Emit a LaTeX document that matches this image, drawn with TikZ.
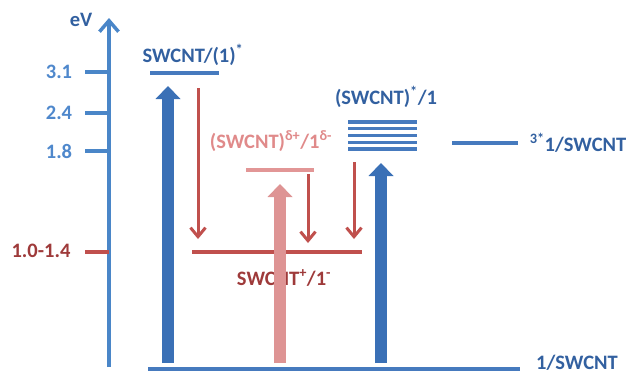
\documentclass[tikz,border=0pt]{standalone}
\usepackage{fontspec}
\setmainfont{Carlito}
\usetikzlibrary{arrows.meta}
\definecolor{axblue}{RGB}{74,134,200}
\definecolor{lvblue}{RGB}{70,122,190}
\definecolor{txblue}{RGB}{50,96,160}
\definecolor{numblue}{RGB}{79,136,204}
\definecolor{fatblue}{RGB}{58,112,182}
\definecolor{arred}{RGB}{192,80,77}
\definecolor{dkred}{RGB}{158,58,58}
\definecolor{pinkarr}{RGB}{222,148,148}
\definecolor{pinklv}{RGB}{226,150,150}
\definecolor{pinktx}{RGB}{224,138,138}
\begin{document}
\begin{tikzpicture}[x=1pt,y=-1pt,
  lab/.style={font=\fontsize{20.5}{22}\selectfont\bfseries, inner sep=0pt},
  level/.style={line width=4pt},
  fat/.style={line width=11.5pt,-{Triangle[length=13pt,width=25pt,line width=0pt]}},
  relaxarrow/.style={arred,line width=3pt,-{Straight Barb[length=9pt,width=15pt]}},
  ticks/.style={line width=4pt}]
\useasboundingbox (0,0) rectangle (633,375);
% axis
\coordinate (axb) at (109,367);
\coordinate (axt) at (109,18);
\draw[axblue,line width=3.5pt,-{Straight Barb[length=11pt,width=19pt]}] (axb) -- (axt);
\node[lab,txblue] (eV) at (81,20) {eV};
% ticks
\foreach \n/\y/\t in {a/72/3.1,b/113/2.4,c/151/1.8}{
  \coordinate (t\n1) at (85,\y); \coordinate (t\n2) at (109,\y);
  \draw[ticks,axblue] (t\n1) -- (t\n2);
  \node[lab,numblue] (l\n) at (59,\y) {\t};
}
\coordinate (td1) at (85,252); \coordinate (td2) at (109,252);
\draw[ticks,arred] (td1) -- (td2);
\node[lab,dkred] (ld) at (41,251) {1.0-1.4};
% levels
\coordinate (g1) at (148,369); \coordinate (g2) at (520,369);
\draw[level,lvblue] (g1) -- (g2);
\node[lab,txblue,anchor=base] (gl) at (577,369) {1/SWCNT};
\coordinate (s1) at (150,73); \coordinate (s2) at (219,73);
\draw[level,lvblue] (s1) -- (s2);
\node[lab,txblue] (sl) at (193,55) {SWCNT/(1)\textsuperscript{*}};
\coordinate (p1) at (246,170); \coordinate (p2) at (314,170);
\draw[level,pinklv] (p1) -- (p2);
\node[lab,pinktx] (pl) at (271,141) {(SWCNT)\textsuperscript{δ+}/1\textsuperscript{δ-}};
\coordinate (r1) at (192,252); \coordinate (r2) at (362,252);
\draw[level,arred] (r1) -- (r2);
\node[lab,dkred] (rl) at (284,278) {SWCNT\textsuperscript{+}/1\textsuperscript{-}};
\foreach \y [count=\i] in {122,128.75,135.5,142.25,149}{
  \coordinate (k\i a) at (348,\y); \coordinate (k\i b) at (417,\y);
  \draw[lvblue,line width=3.2pt] (k\i a) -- (k\i b);
}
\node[lab,txblue] (kl) at (386,97) {(SWCNT)\textsuperscript{*}/1};
\coordinate (tr1) at (452,143); \coordinate (tr2) at (518,143);
\draw[level,lvblue] (tr1) -- (tr2);
\node[lab,txblue] (trl) at (578,143) {\textsuperscript{3*}1/SWCNT};
% excitation arrows
\coordinate (e1b) at (168,363); \coordinate (e1t) at (168,86);
\draw[fat,fatblue] (e1b) -- (e1t);
\coordinate (e2b) at (381,363); \coordinate (e2t) at (381,163);
\draw[fat,fatblue] (e2b) -- (e2t);
\coordinate (e3b) at (280,363); \coordinate (e3t) at (280,184);
\draw[fat,pinkarr] (e3b) -- (e3t);
% relaxation arrows
\coordinate (d1t) at (198,88); \coordinate (d1b) at (198,239);
\draw[relaxarrow] (d1t) -- (d1b);
\coordinate (d2t) at (308,174); \coordinate (d2b) at (308,243);
\draw[relaxarrow] (d2t) -- (d2b);
\coordinate (d3t) at (354,162); \coordinate (d3b) at (354,239);
\draw[relaxarrow] (d3t) -- (d3b);
\end{tikzpicture}
\end{document}
